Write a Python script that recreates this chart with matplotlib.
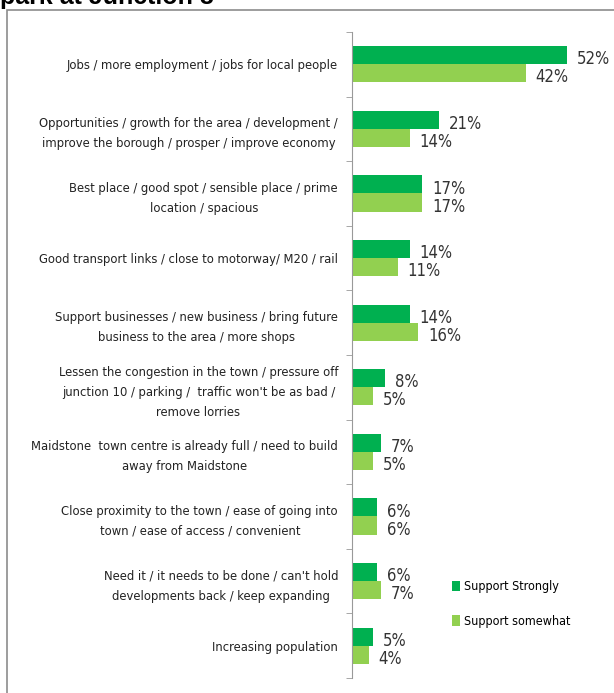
import matplotlib.pyplot as plt
from matplotlib.patches import Rectangle
import numpy as np

reasons = [
    "Jobs / more employment / jobs for local people",
    "Opportunities / growth for the area / development /\nimprove the borough / prosper / improve economy",
    "Best place / good spot / sensible place / prime\nlocation / spacious",
    "Good transport links / close to motorway/ M20 / rail",
    "Support businesses / new business / bring future\nbusiness to the area / more shops",
    "Lessen the congestion in the town / pressure off\njunction 10 / parking /  traffic won't be as bad /\nremove lorries",
    "Maidstone  town centre is already full / need to build\naway from Maidstone",
    "Close proximity to the town / ease of going into\ntown / ease of access / convenient",
    "Need it / it needs to be done / can't hold\ndevelopments back / keep expanding",
    "Increasing population",
]
support_strongly = [52, 21, 17, 14, 14, 8, 7, 6, 6, 5]
support_somewhat = [42, 14, 17, 11, 16, 5, 5, 6, 7, 4]

dark = "#00b050"
light = "#92d050"
plt.rcParams["font.family"] = "DejaVu Sans"
plt.rcParams["font.stretch"] = "condensed"

W, H = 614, 693
fig = plt.figure(figsize=(W / 100, H / 100), dpi=100)

# frame round the chart and the clipped heading above it
fig.patches.append(Rectangle((7 / W, -0.1), 1.2, 1.1 - 10 / H,
                             transform=fig.transFigure, fill=False,
                             edgecolor="#8c8c8c", linewidth=1.2))
fig.text(0.0, 1 - 4 / H, "park at Junction 8", fontsize=18, fontweight="bold",
         ha="left", va="baseline", family="Liberation Sans", fontstretch="normal")

ax = fig.add_axes([352 / W, 15 / H, (W - 352) / W, (678 - 32) / H])
n = len(reasons)
y = np.arange(n)
bh = 0.279
ax.barh(y - bh / 2, support_strongly, height=bh, color=dark, label="Support Strongly")
ax.barh(y + bh / 2, support_somewhat, height=bh, color=light, label="Support somewhat")

for i in range(n):
    ax.annotate(f"{support_strongly[i]}%", (support_strongly[i], y[i] - bh / 2),
                xytext=(7, -3), textcoords="offset points", va="center", ha="left",
                fontsize=12, color="#333333")
    ax.annotate(f"{support_somewhat[i]}%", (support_somewhat[i], y[i] + bh / 2),
                xytext=(7, -3), textcoords="offset points", va="center", ha="left",
                fontsize=12, color="#333333")

ax.set_xlim(0, (W - 352) / 4.14)
ax.set_ylim(n - 0.5, -0.5)
ax.set_yticks(np.arange(n + 1) - 0.5, minor=True)
ax.set_yticks(y)
ax.set_yticklabels(reasons, fontsize=9.3, color="#222222",
                   multialignment="center", linespacing=1.7)
ax.tick_params(axis="y", which="major", length=0, pad=10)
ax.tick_params(axis="y", which="minor", length=4, color="#999999")
ax.set_xticks([])
for side in ["top", "right", "bottom"]:
    ax.spines[side].set_visible(False)
ax.spines["left"].set_color("#999999")

ax.legend(loc="upper left", bbox_to_anchor=(89 / (W - 352), 1 - (569 - 32) / (678 - 32)),
          frameon=False, handlelength=0.65, handleheight=0.95, handletextpad=0.25,
          labelspacing=1.75, prop={"size": 9})

fig.savefig("out.png", dpi=100)
